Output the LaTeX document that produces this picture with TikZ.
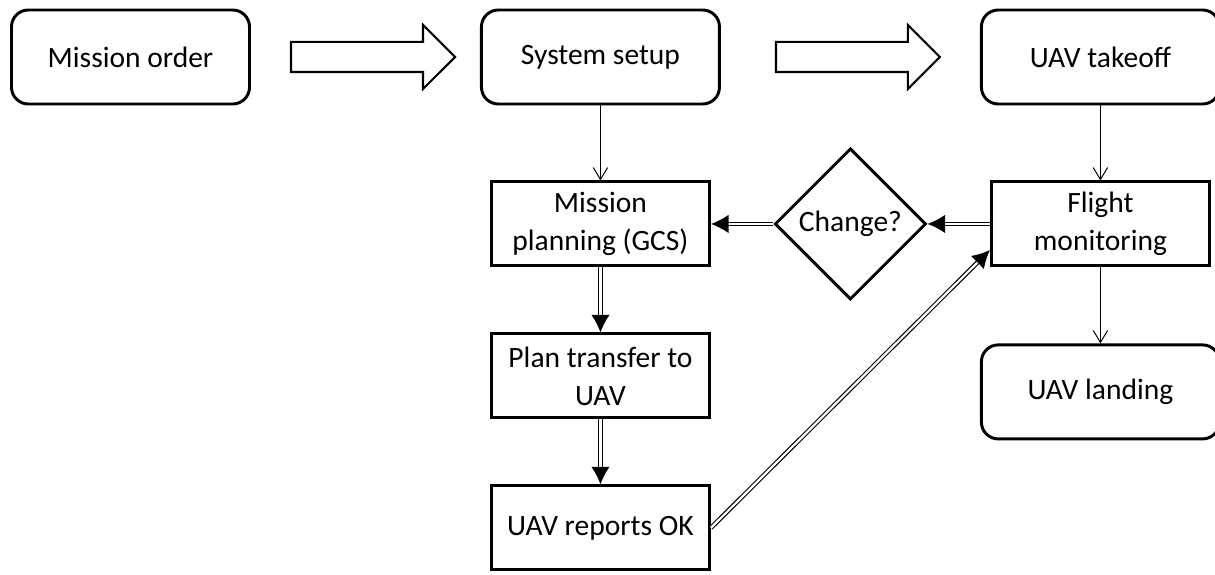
\documentclass[tikz,border=0pt]{standalone}
\usepackage{fontspec}
\setmainfont{Carlito}
\usetikzlibrary{positioning,shapes.geometric,shapes.arrows,arrows.meta,calc}
\newcommand{\boxfont}{\fontsize{21}{27}\selectfont}
\tikzset{
  term/.style={rectangle, rounded corners=4.2mm, draw=black, line width=2.1pt, minimum width=59.5mm, minimum height=23.5mm, font=\boxfont},
  proc/.style={rectangle, draw=black, line width=2.1pt, minimum width=54.5mm, minimum height=21mm, align=center, font=\boxfont},
  decide/.style={diamond, draw=black, line width=2.1pt, minimum width=37.8mm, minimum height=37.8mm, inner sep=0pt, font=\boxfont},
  bigarrow/.style={single arrow, draw=black, line width=1.5pt, minimum height=41mm, minimum width=15.5mm, single arrow head extend=4.25mm, inner xsep=0pt, inner ysep=3.5mm},
  flow/.style={-{Straight Barb[length=3mm,width=3.6mm]}, line width=0.7pt},
  link/.style={-{Latex[length=4.4mm,width=4.6mm]}, double, double distance=1.6pt, line width=0.8pt}
}

\begin{document}
\begin{tikzpicture}
    \useasboundingbox (0,0) rectangle (30.375,-14.35);

    \node[term] (Order) at (3.2625,-1.425) {Mission order};
    \node[term] (Setup) [right=5.725cm of Order] {System setup};
    \node[term] (Takeoff) [right=6.475cm of Setup] {UAV takeoff};
    \node[proc] (Planning) [below=1.875cm of Setup] {Mission\\planning (GCS)};
    \node[proc] (Transfer) [below=1.625cm of Planning] {Plan transfer to\\UAV};
    \node[proc] (Reports) [below=1.625cm of Transfer] {UAV reports OK};
    \node[proc] (Monitor) [below=1.875cm of Takeoff] {Flight\\monitoring};
    \node[term] (Landing) [below=1.9cm of Monitor] {UAV landing};
    \node[decide] (Change) at ($(Planning.east)!0.5!(Monitor.west)$) {Change?};

    \node[bigarrow] (A1) at ($(Order.east)!0.5!(Setup.west)$) {};
    \node[bigarrow] (A2) at ($(Setup.east)!0.5!(Takeoff.west)$) {};

    \coordinate (MonIn) at ($(Monitor.south west)!0.2!(Monitor.north west)$);

    \path (Setup) edge [flow] (Planning)
          (Takeoff) edge [flow] (Monitor)
          (Monitor) edge [flow] (Landing);
    \path (Planning) edge [link] (Transfer)
          (Transfer) edge [link] (Reports)
          (Monitor) edge [link] (Change)
          (Change) edge [link] (Planning);
    \draw [link] (Reports.east) -- (MonIn);
\end{tikzpicture}
\end{document}
